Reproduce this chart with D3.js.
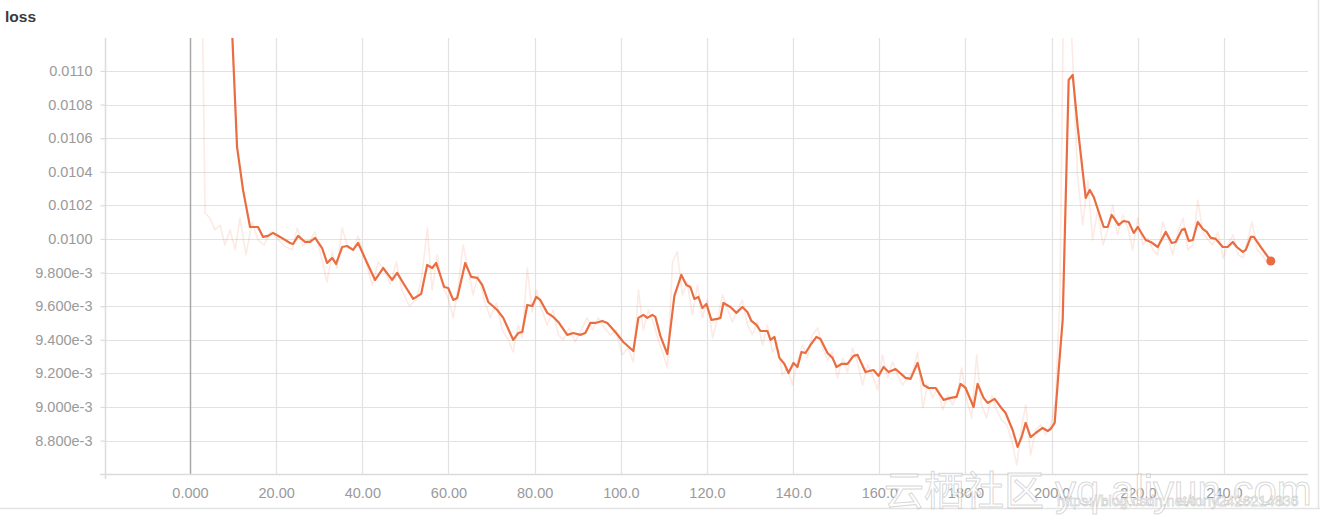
<!DOCTYPE html>
<html>
<head>
<meta charset="utf-8">
<script src="https://cdn.jsdelivr.net/npm/d3@7"></script>
<style>
  html, body { margin: 0; padding: 0; background: #ffffff; }
  svg { display: block; }
</style>
</head>
<body>
<svg id="chart" width="1334" height="520"></svg>
<script>
// ---------------- DATA ----------------
const title = "loss";

const yTickValues = [0.0088, 0.0090, 0.0092, 0.0094, 0.0096, 0.0098, 0.0100, 0.0102, 0.0104, 0.0106, 0.0108, 0.0110];
const yTickLabels = ["8.800e-3", "9.000e-3", "9.200e-3", "9.400e-3", "9.600e-3", "9.800e-3", "0.0100", "0.0102", "0.0104", "0.0106", "0.0108", "0.0110"];
const xTickValues = [0, 20, 40, 60, 80, 100, 120, 140, 160, 180, 200, 220, 240];
const xTickLabels = ["0.000", "20.00", "40.00", "60.00", "80.00", "100.0", "120.0", "140.0", "160.0", "180.0", "200.0", "220.0", "240.0"];

// smoothed series
const smoothSteps = [8.83, 10.92, 12.31, 13.94, 15.80, 16.96, 18.12, 19.28, 20.91, 23.23, 23.93, 25.09, 26.71, 27.87, 29.04, 30.66, 31.82, 32.98, 33.91, 35.31,
  36.47, 37.86, 39.02, 41.11, 42.97, 44.83, 46.92, 48.08, 49.48, 51.80, 53.66, 55.05, 56.21, 57.14, 59.00, 59.93, 61.09, 62.02, 63.88, 65.27,
  66.67, 67.83, 69.22, 71.31, 72.71, 75.03, 76.19, 77.12, 78.28, 79.44, 80.37, 81.30, 82.93, 84.32, 85.48, 87.57, 88.97, 90.59, 91.75, 92.92,
  94.08, 95.70, 96.86, 98.72, 100.58, 102.90, 104.07, 105.23, 106.16, 107.32, 108.01, 109.18, 110.80, 112.43, 114.05, 115.21, 116.14, 117.07, 118.00, 118.93,
  119.86, 121.02, 122.42, 123.11, 123.81, 125.44, 126.83, 128.22, 129.38, 130.31, 131.48, 132.40, 134.03, 134.73, 135.66, 136.82, 137.98, 138.91, 140.07, 141.00,
  141.93, 142.86, 144.02, 145.41, 146.34, 147.97, 149.13, 150.06, 151.22, 152.61, 154.01, 154.94, 156.79, 158.65, 159.81, 160.98, 162.14, 163.76, 166.09, 167.25,
  168.87, 170.27, 171.43, 173.05, 174.91, 176.54, 177.93, 178.86, 180.02, 181.88, 182.81, 184.20, 185.13, 186.76, 188.15, 189.31, 190.94, 192.10, 193.03, 193.96,
  195.12, 196.28, 197.91, 199.07, 199.77, 200.70, 201.63, 202.56, 203.95, 204.88, 206.04, 207.90, 208.83, 209.76, 212.08, 213.01, 213.94, 215.56, 216.72, 217.89,
  219.05, 219.98, 221.84, 223.00, 224.62, 226.48, 227.87, 228.80, 230.20, 230.89, 231.82, 232.75, 233.91, 235.08, 236.00, 236.93, 238.10, 239.72, 240.88, 242.04,
  242.97, 244.37, 245.06, 246.23, 246.92, 248.55, 250.87];
const smoothLoss = [0.011800, 0.010548, 0.010292, 0.010071, 0.010071, 0.010012, 0.010018, 0.010036, 0.010012, 0.009976, 0.009970, 0.010018, 0.009982, 0.009982, 0.010006, 0.009946, 0.009857, 0.009887, 0.009851, 0.009952,
  0.009958, 0.009935, 0.009976, 0.009857, 0.009756, 0.009827, 0.009756, 0.009798, 0.009738, 0.009643, 0.009673, 0.009845, 0.009827, 0.009857, 0.009714, 0.009708, 0.009637, 0.009649, 0.009857, 0.009774,
  0.009768, 0.009726, 0.009625, 0.009577, 0.009530, 0.009399, 0.009440, 0.009446, 0.009607, 0.009601, 0.009655, 0.009637, 0.009560, 0.009536, 0.009506, 0.009429, 0.009440, 0.009429, 0.009440, 0.009500,
  0.009500, 0.009512, 0.009500, 0.009446, 0.009387, 0.009333, 0.009530, 0.009548, 0.009530, 0.009548, 0.009536, 0.009423, 0.009315, 0.009661, 0.009786, 0.009726, 0.009714, 0.009643, 0.009655, 0.009589,
  0.009613, 0.009518, 0.009524, 0.009530, 0.009619, 0.009595, 0.009560, 0.009595, 0.009565, 0.009512, 0.009488, 0.009452, 0.009452, 0.009399, 0.009417, 0.009292, 0.009256, 0.009202, 0.009262, 0.009238,
  0.009327, 0.009321, 0.009369, 0.009417, 0.009405, 0.009321, 0.009292, 0.009238, 0.009256, 0.009256, 0.009304, 0.009310, 0.009208, 0.009220, 0.009185, 0.009238, 0.009208, 0.009226, 0.009173, 0.009167,
  0.009262, 0.009131, 0.009113, 0.009113, 0.009042, 0.009054, 0.009060, 0.009137, 0.009113, 0.009000, 0.009137, 0.009054, 0.009024, 0.009048, 0.009000, 0.008964, 0.008863, 0.008762, 0.008821, 0.008905,
  0.008821, 0.008845, 0.008875, 0.008857, 0.008869, 0.008905, 0.009220, 0.009518, 0.010946, 0.010976, 0.010667, 0.010244, 0.010292, 0.010250, 0.010071, 0.010071, 0.010143, 0.010083, 0.010107, 0.010101,
  0.010036, 0.010071, 0.009994, 0.009982, 0.009952, 0.010042, 0.009976, 0.009982, 0.010054, 0.010060, 0.009988, 0.009994, 0.010101, 0.010060, 0.010042, 0.010006, 0.010000, 0.009952, 0.009952, 0.009982,
  0.009952, 0.009923, 0.009935, 0.010012, 0.010012, 0.009952, 0.009869];

// raw (unsmoothed) series
const rawSteps = [2.3, 3.5, 4.6, 5.8, 7.0, 8.1, 9.3, 10.5, 11.6, 13.0, 14.4, 15.8, 17.2, 18.6, 20.2, 21.8, 23.7, 24.9, 26.2, 27.9,
  29.0, 30.4, 31.8, 33.0, 34.1, 35.3, 36.7, 37.9, 39.0, 40.6, 42.3, 43.7, 45.1, 46.5, 47.9, 49.2, 50.9, 52.5, 53.7, 55.1,
  56.2, 57.4, 58.5, 59.9, 61.1, 62.3, 63.4, 64.6, 65.7, 66.9, 68.3, 69.7, 71.1, 72.5, 73.9, 75.0, 76.2, 77.1, 78.3, 79.4,
  80.4, 81.5, 82.9, 84.3, 85.5, 86.6, 88.0, 89.4, 90.8, 92.2, 93.4, 94.8, 96.2, 97.6, 98.9, 100.3, 101.7, 102.9, 104.1, 105.2,
  106.4, 107.5, 108.7, 109.9, 110.8, 112.0, 113.1, 114.3, 115.4, 116.6, 117.8, 118.9, 120.1, 121.3, 122.4, 123.6, 124.7, 125.9, 127.1, 128.2,
  129.4, 130.5, 131.7, 132.9, 134.0, 135.2, 136.3, 137.5, 138.7, 139.8, 141.0, 142.2, 143.3, 144.5, 145.7, 146.8, 148.0, 149.1, 150.3, 151.5,
  152.6, 153.8, 154.9, 156.1, 157.3, 158.4, 159.6, 160.7, 161.9, 163.1, 164.2, 165.4, 166.6, 167.7, 168.9, 170.1, 171.2, 172.4, 173.5, 174.7,
  175.9, 177.0, 178.2, 179.1, 180.3, 181.4, 182.6, 183.7, 184.9, 186.1, 187.2, 188.4, 189.6, 190.7, 191.9, 193.1, 194.0, 195.1, 196.3, 197.5,
  198.6, 199.8, 200.9, 201.9, 202.8, 203.9, 204.9, 206.0, 207.2, 208.4, 209.5, 210.7, 211.9, 213.0, 214.2, 215.3, 216.5, 217.7, 218.8, 220.0,
  221.2, 222.3, 223.5, 224.6, 225.8, 227.0, 228.1, 229.3, 230.5, 231.6, 232.8, 233.9, 235.1, 236.3, 237.4, 238.6, 239.8, 240.9, 242.1, 243.3,
  244.4, 245.5, 246.5, 247.7, 248.8, 250.0, 250.9];
const rawLoss = [0.012500, 0.010155, 0.010125, 0.010054, 0.010083, 0.009964, 0.010054, 0.009935, 0.010125, 0.009905, 0.010101, 0.009994, 0.009964, 0.010042, 0.010006, 0.009958, 0.009935, 0.010065, 0.009958, 0.009994,
  0.010042, 0.009905, 0.009744, 0.009923, 0.009827, 0.010065, 0.009946, 0.009935, 0.010018, 0.009887, 0.009726, 0.009863, 0.009815, 0.009732, 0.009863, 0.009696, 0.009601, 0.009637, 0.009756, 0.010065,
  0.009696, 0.009905, 0.009726, 0.009649, 0.009530, 0.009726, 0.009964, 0.009815, 0.009667, 0.009786, 0.009637, 0.009530, 0.009619, 0.009458, 0.009399, 0.009327, 0.009488, 0.009411, 0.009827, 0.009565,
  0.009696, 0.009589, 0.009488, 0.009577, 0.009429, 0.009399, 0.009470, 0.009387, 0.009458, 0.009530, 0.009458, 0.009530, 0.009470, 0.009429, 0.009458, 0.009310, 0.009351, 0.009268, 0.009696, 0.009458,
  0.009577, 0.009506, 0.009399, 0.009310, 0.009232, 0.009863, 0.009923, 0.009667, 0.009744, 0.009548, 0.009726, 0.009530, 0.009637, 0.009411, 0.009518, 0.009667, 0.009589, 0.009506, 0.009577, 0.009637,
  0.009488, 0.009429, 0.009506, 0.009369, 0.009488, 0.009327, 0.009369, 0.009190, 0.009232, 0.009131, 0.009268, 0.009369, 0.009292, 0.009429, 0.009470, 0.009351, 0.009280, 0.009327, 0.009173, 0.009292,
  0.009208, 0.009351, 0.009268, 0.009131, 0.009250, 0.009190, 0.009101, 0.009310, 0.009173, 0.009268, 0.009190, 0.009131, 0.009173, 0.009208, 0.009327, 0.008994, 0.009131, 0.009054, 0.009113, 0.008982,
  0.009071, 0.009012, 0.009089, 0.009232, 0.009042, 0.008935, 0.009310, 0.009012, 0.008935, 0.009071, 0.008982, 0.008923, 0.008893, 0.008804, 0.008655, 0.008893, 0.009012, 0.008714, 0.008863, 0.008893,
  0.008833, 0.008893, 0.009042, 0.009637, 0.011542, 0.011601, 0.011065, 0.010381, 0.010083, 0.010351, 0.009994, 0.010173, 0.009964, 0.010054, 0.010202, 0.010024, 0.010143, 0.010065, 0.009935, 0.010125,
  0.009964, 0.010006, 0.009935, 0.009905, 0.010101, 0.010006, 0.009905, 0.010042, 0.010125, 0.009935, 0.009964, 0.010232, 0.010042, 0.009994, 0.009964, 0.010042, 0.009887, 0.009964, 0.010024, 0.009905,
  0.009887, 0.009994, 0.010101, 0.009935, 0.009905, 0.009863, 0.009845];

const watermarkCJK = "云栖社区";
const watermarkSite = "yq.aliyun.com";
const watermarkUrl = "https://blog.csdn.net/tony2426214836";

// ---------------- DRAW ----------------
(function draw() {
  const svg = d3.select("#chart");
  const pL = 105, pR = 1308, pT = 38, pB = 474;
  const lineColor = "#e96d40";
  const font = "'Liberation Sans', Arial, Helvetica, sans-serif";

  const x = d3.scaleLinear().domain([-19.73, 259.5]).range([pL, pR]);
  const y = d3.scaleLinear().domain([0.008601, 0.011196]).range([pB, pT]);

  // card borders
  svg.append("line").attr("x1", 0).attr("x2", 1320).attr("y1", 508.5).attr("y2", 508.5)
    .attr("stroke", "#e4e4e4").attr("stroke-width", 1.5);
  svg.append("line").attr("x1", 1318.5).attr("x2", 1318.5).attr("y1", 0).attr("y2", 509)
    .attr("stroke", "#e4e4e4").attr("stroke-width", 1.5);

  // title
  svg.append("text").attr("x", 5).attr("y", 22).text(title)
    .attr("font-family", font).attr("font-size", 15.5).attr("font-weight", "bold").attr("fill", "#3a3a3a");

  // gridlines
  const grid = svg.append("g");
  grid.selectAll("line.h").data(yTickValues).join("line").attr("class", "h")
    .attr("x1", pL).attr("x2", pR)
    .attr("y1", d => Math.round(y(d)) + 0.5).attr("y2", d => Math.round(y(d)) + 0.5)
    .attr("stroke", "#e2e2e2").attr("stroke-width", 1.2);
  grid.selectAll("line.v").data(xTickValues).join("line").attr("class", "v")
    .attr("x1", d => Math.round(x(d)) + 0.5).attr("x2", d => Math.round(x(d)) + 0.5)
    .attr("y1", pT).attr("y2", pB)
    .attr("stroke", d => d === 0 ? "#a8a8a8" : "#e2e2e2").attr("stroke-width", d => d === 0 ? 1.5 : 1.2);

  // axes
  const yAxis = d3.axisLeft(y).tickValues(yTickValues).tickFormat((d, i) => yTickLabels[i]).tickSize(5).tickPadding(8);
  const gy = svg.append("g").attr("transform", `translate(${pL + 0.5},0)`).call(yAxis);
  gy.select(".domain").attr("stroke", "#dcdcdc").attr("stroke-width", 1.5).attr("d", `M0,${pT}V${pB + 5}`);
  gy.selectAll(".tick line").attr("stroke", "#dcdcdc").attr("stroke-width", 1.2);
  gy.selectAll(".tick text").attr("font-family", font).attr("font-size", 14.5).attr("fill", "#9a9a9a");

  const xAxis = d3.axisBottom(x).tickValues(xTickValues).tickFormat((d, i) => xTickLabels[i]).tickSize(0).tickPadding(13);
  const gx = svg.append("g").attr("transform", `translate(0,${pB + 0.5})`).call(xAxis);
  gx.select(".domain").attr("stroke", "#dcdcdc").attr("stroke-width", 1.5).attr("d", `M${pL - 5},0H${pR}`);
  gx.selectAll(".tick text").attr("font-family", font).attr("font-size", 14.5).attr("fill", "#9a9a9a");

  // clip
  svg.append("defs").append("clipPath").attr("id", "plotclip")
    .append("rect").attr("x", pL).attr("y", pT).attr("width", pR - pL).attr("height", pB - pT);

  const plot = svg.append("g").attr("clip-path", "url(#plotclip)");

  const rawData = rawSteps.map((s, i) => [s, rawLoss[i]]);
  const smoothData = smoothSteps.map((s, i) => [s, smoothLoss[i]]);
  const line = d3.line().x(d => x(d[0])).y(d => y(d[1]));

  plot.append("path").datum(rawData).attr("d", line)
    .attr("fill", "none").attr("stroke", lineColor).attr("stroke-opacity", 0.14)
    .attr("stroke-width", 1.6).attr("stroke-linejoin", "round");

  plot.append("path").datum(smoothData).attr("d", line)
    .attr("fill", "none").attr("stroke", lineColor).attr("stroke-width", 2.2)
    .attr("stroke-linejoin", "round").attr("stroke-linecap", "round");

  const last = smoothData[smoothData.length - 1];
  svg.append("circle").attr("cx", x(last[0])).attr("cy", y(last[1])).attr("r", 4.5)
    .attr("fill", lineColor);

  // watermark (overlaid on the original screenshot)
  const wm = svg.append("g").attr("fill", "#ffffff").attr("fill-opacity", 0.75)
    .attr("stroke", "#9a9a9a").attr("stroke-opacity", 0.4);
  wm.append("text").attr("x", 884).attr("y", 505).text(watermarkCJK)
    .attr("font-family", "'Noto Sans CJK SC', sans-serif").attr("font-size", 40).attr("stroke-width", 1);
  wm.append("text").attr("x", 1055).attr("y", 505).text(watermarkSite)
    .attr("font-family", font).attr("font-size", 42).attr("stroke-width", 1);
  wm.append("text").attr("x", 1057).attr("y", 506).text(watermarkUrl)
    .attr("font-family", font).attr("font-size", 14.5).attr("fill-opacity", 0.85).attr("stroke-width", 0.8);
})();
</script>
</body>
</html>
